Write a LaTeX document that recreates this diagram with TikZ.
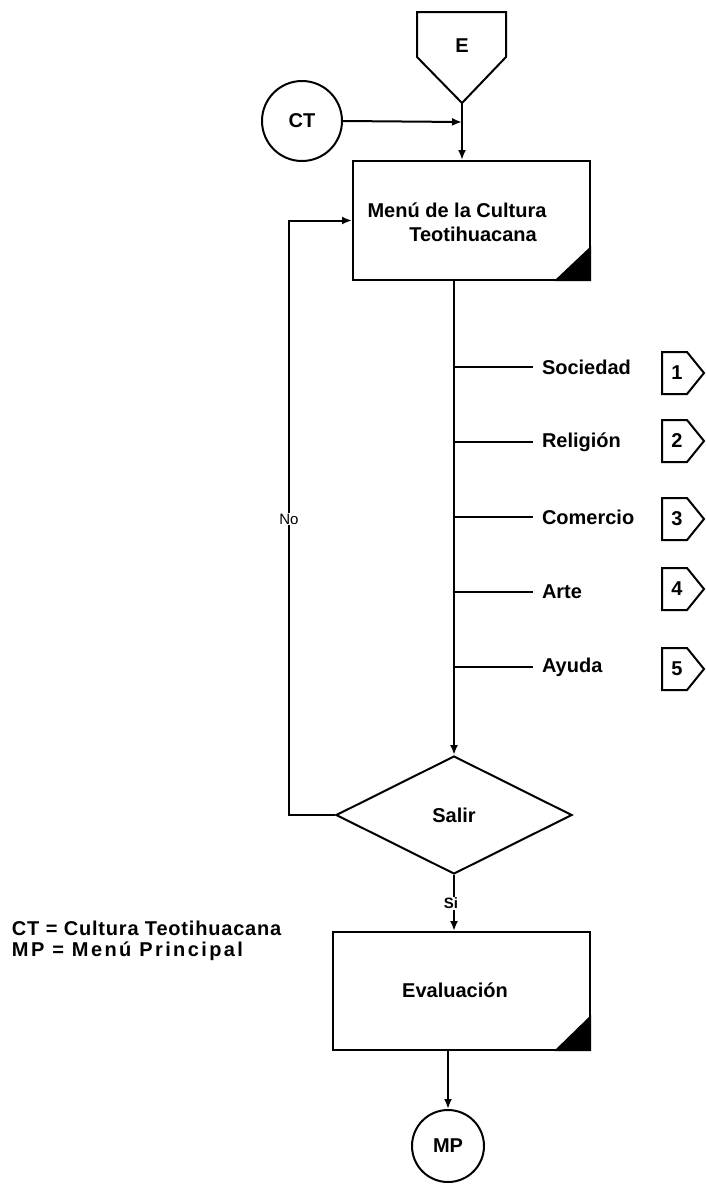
\documentclass[tikz,border=0pt]{standalone}
\usepackage{fontspec}
\setmainfont{Liberation Sans}
\newfontfamily\legendA[LetterSpace=4]{Liberation Sans}
\newfontfamily\legendB[LetterSpace=12]{Liberation Sans}
\usetikzlibrary{arrows.meta,shapes.geometric}

\begin{document}
\begin{tikzpicture}[x=1pt,y=-1pt,line width=2pt,
  every node/.style={font=\fontsize{20}{23}\selectfont\bfseries},
  arr/.style={-{Latex[length=10pt,width=8pt]}},
  procbox/.style={draw,inner sep=0pt,minimum height=119pt},
  conn/.style={draw,circle,inner sep=0pt,minimum size=80pt},
  optlabel/.style={anchor=west,inner sep=0pt},
  numtag/.style={inner sep=0pt},
  onlinelabel/.style={fill=white,inner sep=1pt,font=\fontsize{15}{17}\selectfont}]

\useasboundingbox (0,0) rectangle (706,1184);

% off-page entry connector
\draw (417,12) -- (506,12) -- (506,57) -- (462,103) -- (417,57) -- cycle;
\node (E) at (462,46) {E};
\coordinate (Etip) at (462,103);

% on-page connector
\node[conn] (CT) at (302,121) {CT};
\coordinate (join) at (462,122);

% menu process box with its corner mark
\node[procbox,minimum width=237pt] (menu) at (471.5,220.5) {};
\fill (menu.south east) -- ++(-37,0) -- ++(37,-35) -- cycle;
\node (menuA) at (457,210) {Menú de la Cultura};
\node (menuB) at (473,234) {Teotihuacana};

\draw[arr] (Etip) -- (Etip |- menu.north);
\draw[arr] (CT.east) -- (join);

% decision
\node[draw,diamond,inner sep=0pt,minimum width=236pt,minimum height=118pt] (salir) at (454,815) {Salir};
\draw[arr] (menu.south -| salir.north) -- (salir.north);

% menu options branching off the trunk
\foreach \yy/\txt [count=\i] in {365/Sociedad,440/Religión,515/Comercio,590/Arte,665/Ayuda}{
  \node[optlabel] (opt\i) at (541,\yy+2) {\txt};
  \draw (opt\i.west -| salir.north) -- ([xshift=-8pt]opt\i.west);
}

% off-page connectors for each option
\foreach \cc [count=\i] in {373,441,519,589,669}{
  \draw (662,\cc-21) -- (687,\cc-21) -- (704,\cc) -- (687,\cc+21) -- (662,\cc+21) -- cycle;
  \node[numtag] (tag\i) at (677,\cc) {\i};
}

% loop back when not leaving
\draw[arr] (salir.west) -- ++(-46,0) |- (menu.west);
\node[onlinelabel] (no) at (289,519) {No};

% evaluation process box
\node[procbox,minimum width=257pt,minimum height=118pt] (eval) at (461.5,991) {};
\fill (eval.south east) -- ++(-37,0) -- ++(37,-36) -- cycle;
\node (evtext) at (455,990) {Evaluación};

\draw[arr] (salir.south) -- (salir.south |- eval.north);
\node[onlinelabel,font=\fontsize{15}{17}\selectfont\bfseries] (si) at (451,903) {Si};

% exit to main menu
\node[conn,minimum size=72pt] (MP) at (448,1146) {MP};
\draw[arr] (eval.south -| MP.north) -- (MP.north);

% legend
\node[anchor=west,inner sep=0pt,font=\fontsize{20}{23}\selectfont\legendA\bfseries] (leg1) at (11,928) {CT = Cultura Teotihuacana};
\node[anchor=west,inner sep=0pt,font=\fontsize{20}{23}\selectfont\legendB\bfseries] (leg2) at (11,951) {MP = Menú Principal};
\end{tikzpicture}
\end{document}
